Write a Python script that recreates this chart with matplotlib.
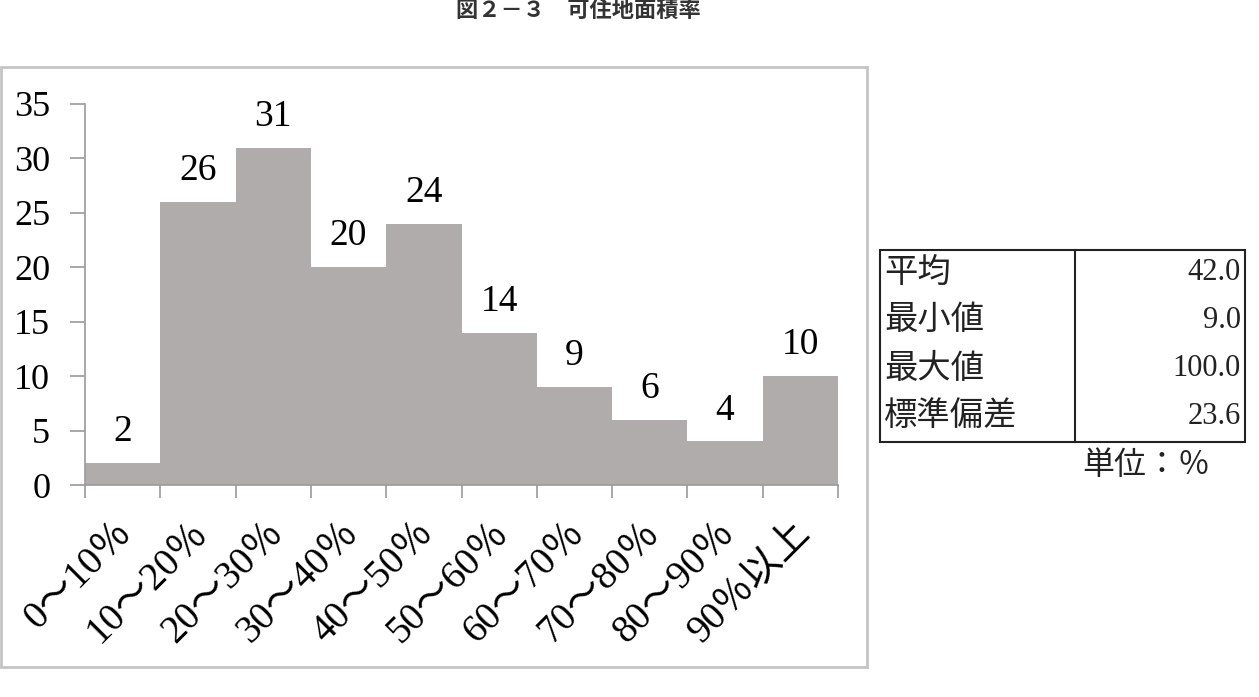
import matplotlib
matplotlib.use("Agg")
import matplotlib.pyplot as plt
from matplotlib.patches import Rectangle
from matplotlib.lines import Line2D

categories = ["0～10％", "10～20％", "20～30％", "30～40％", "40～50％",
              "50～60％", "60～70％", "70～80％", "80～90％", "90％以上"]
counts = [2, 26, 31, 20, 24, 14, 9, 6, 4, 10]
stat_names = ["平均", "最小値", "最大値", "標準偏差"]
stat_values = ["42.0", "9.0", "100.0", "23.6"]
title = "図２－３　可住地面積率"
unit_note = "単位：％"

FONT = ["Liberation Serif", "Noto Sans CJK JP"]
plt.rcParams['font.family'] = FONT

W, H = 1259, 697
fig = plt.figure(figsize=(W / 100, H / 100), dpi=100)

def fx(px):
    return px / W

def fy(py):
    return 1 - py / H

# outer chart frame
fig.add_artist(Rectangle((fx(1), fy(667)), fx(866), (667 - 67) / H,
                         transform=fig.transFigure, fill=False,
                         edgecolor="#c4c4c4", linewidth=2))

ax = fig.add_axes([fx(85), fy(485), fx(838 - 85), (485 - 104) / H])
x = list(range(len(categories)))
ax.bar(x, counts, width=1.0, color="#b0acac", edgecolor="none", align="center")
ax.set_xlim(-0.5, len(categories) - 0.5)
ax.set_ylim(0, 35)
ax.set_yticks(range(0, 36, 5))
ax.tick_params(axis='y', labelsize=26, length=11, width=1.2, color="#9a9a9a", pad=14)
for lab in ax.get_yticklabels():
    lab.set_family(FONT)

ax.set_xticks([i - 0.5 for i in range(len(categories) + 1)], minor=False)
ax.set_xticklabels([])
ax.tick_params(axis='x', length=9, width=1.2, color="#9a9a9a")
for i, c in enumerate(categories):
    ax.annotate(c, xy=(i, 0), xycoords=('data', 'axes fraction'),
                xytext=(-6, -21), textcoords='offset points',
                rotation=45, rotation_mode='anchor', ha='right', va='top',
                fontsize=28, family=FONT)

for s in ['top', 'right']:
    ax.spines[s].set_visible(False)
ax.spines['left'].set_color("#9a9a9a")
ax.spines['bottom'].set_color("#9a9a9a")
ax.spines['left'].set_linewidth(1.2)
ax.spines['bottom'].set_linewidth(1.2)

for i, v in enumerate(counts):
    ax.annotate(str(v), xy=(i, v), xytext=(0, 10), textcoords='offset points',
                ha='center', va='bottom', fontsize=27, family=FONT)

# title
fig.text(fx(578), fy(22), title, ha='center', va='bottom', fontsize=16,
         family=["Noto Sans CJK JP"], fontweight='bold', color="#333333")

# statistics table
fig.add_artist(Rectangle((fx(880), fy(442)), fx(1245 - 880), (442 - 250) / H,
                         transform=fig.transFigure, fill=False,
                         edgecolor="#222222", linewidth=1.5))
fig.add_artist(Line2D([fx(1075), fx(1075)], [fy(250), fy(442)],
                      transform=fig.transFigure, color="#222222", linewidth=1.5))
row_y = [273, 321, 369, 417]
for name, val, yy in zip(stat_names, stat_values, row_y):
    fig.text(fx(884), fy(yy), name, ha='left', va='center', fontsize=24,
             family=FONT, color="#222222")
    fig.text(fx(1241), fy(yy), val, ha='right', va='center', fontsize=22,
             family=FONT, color="#222222")
fig.text(fx(1082), fy(466), unit_note, ha='left', va='center', fontsize=23,
         family=FONT, color="#222222")

fig.savefig("out.png", dpi=100)
